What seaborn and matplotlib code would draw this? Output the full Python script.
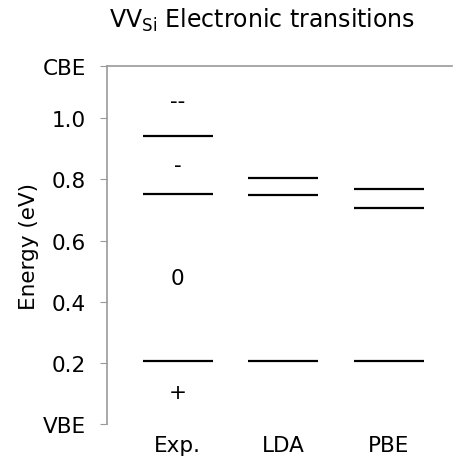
import numpy as np
import pandas as pd
import matplotlib
matplotlib.use('Agg')
import matplotlib.pyplot as plt
import seaborn as sns

# data
methods = ['Exp.', 'LDA', 'PBE']
exp_levels = [0.942, 0.751, 0.207]
lda_levels = [0.803, 0.748, 0.207]
pbe_levels = [0.767, 0.706, 0.207]
cbe = 1.17
charge_states = ['--', '-', '0', '+']

sns.set_style('white')
plt.rcParams['font.family'] = ['DejaVu Sans']
plt.rcParams['text.color'] = 'black'
plt.rcParams['xtick.color'] = 'black'
plt.rcParams['ytick.color'] = 'black'
plt.rcParams['axes.labelcolor'] = 'black'

rows = []
for m, lev in zip(methods, [exp_levels, lda_levels, pbe_levels]):
    for e in lev:
        rows.append({'method': m, 'energy': e})
df = pd.DataFrame(rows)
df['x'] = df['method'].map({m: i for i, m in enumerate(methods)})

fig = plt.figure(figsize=(4.53, 4.6), dpi=100)
ax = fig.add_axes([0.236, 0.076, 0.762, 0.778])

sns.scatterplot(data=df, x='x', y='energy', marker='_', s=2600,
                color='black', linewidth=1.6, ax=ax, legend=False)

# charge state labels sit midway between experimental levels
bounds = [cbe] + exp_levels + [0.0]
for i, lab in enumerate(charge_states):
    ax.text(0, (bounds[i] + bounds[i + 1]) / 2, lab, ha='center', va='center',
            fontsize=15.5, color='black')

ax.set_xlim(-0.67, 2.6)
ax.set_ylim(0, cbe)
ax.set_xticks(range(len(methods)))
ax.set_xticklabels(methods, fontsize=15.5)
ax.set_yticks([0, 0.2, 0.4, 0.6, 0.8, 1.0, cbe])
ax.set_yticklabels(['VBE', '0.2', '0.4', '0.6', '0.8', '1.0', 'CBE'], fontsize=15.5)
ax.tick_params(axis='y', length=5, color='#999999', direction='out', left=True, pad=10)
ax.tick_params(axis='x', length=0, pad=8)
ax.set_xlabel('')
ax.set_ylabel('Energy (eV)', fontsize=15.5, labelpad=3)
fig.text(0.578, 1 - 20 / 460, 'VV$_{\\mathregular{Si}}$ Electronic transitions',
         ha='center', va='center', fontsize=17)

for s in ['right', 'bottom']:
    ax.spines[s].set_visible(False)
for s in ['left', 'top']:
    ax.spines[s].set_color('#999999')
    ax.spines[s].set_linewidth(1.2)

fig.savefig('out.png', dpi=100)
